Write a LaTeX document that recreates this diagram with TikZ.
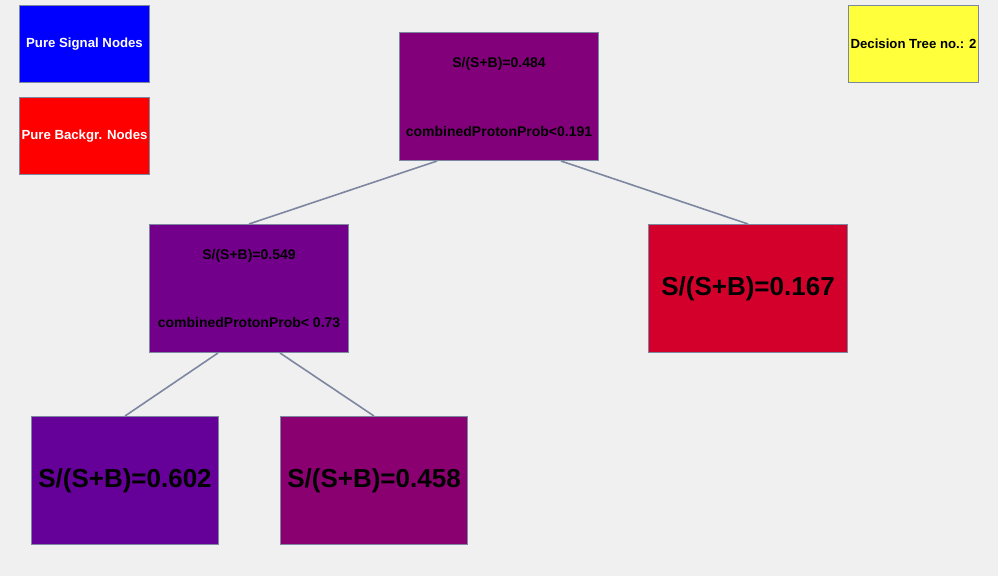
\documentclass[tikz,border=0pt]{standalone}
\usepackage{fontspec}
\setmainfont{Liberation Sans}
\usetikzlibrary{positioning}

\definecolor{canvas}{RGB}{240,240,240}
\definecolor{frame}{RGB}{125,135,160}
\definecolor{sigcol}{RGB}{0,0,255}
\definecolor{bkgcol}{RGB}{255,0,0}
\definecolor{infocol}{RGB}{255,255,60}
\definecolor{col484}{RGB}{130,0,122}
\definecolor{col549}{RGB}{114,0,138}
\definecolor{col167}{RGB}{212,0,44}
\definecolor{col602}{RGB}{101,0,152}
\definecolor{col458}{RGB}{138,0,112}

\begin{document}
\begin{tikzpicture}[x=1pt,y=-1pt]
    \tikzstyle{legend}=[draw=frame,line width=1pt,anchor=north west,inner sep=0pt,minimum width=130pt,minimum height=77pt,font=\fontsize{13.2}{16}\selectfont\bfseries]
    \tikzstyle{cut}=[draw=frame,line width=1pt,anchor=north west,inner sep=0pt,minimum width=199pt,minimum height=128pt]
    \tikzstyle{leaf}=[cut,font=\fontsize{26}{30}\selectfont\bfseries]
    \tikzstyle{small}=[font=\fontsize{14}{16}\selectfont\bfseries,inner sep=0pt]
    \tikzstyle{branch}=[draw=frame,line width=1.6pt]
    % background
    \fill[canvas] (0,0) rectangle (998,576);
    % legend
    \node[legend,fill=sigcol,text=white] (signal) at (19,5) {Pure Signal Nodes};
    \node[legend,fill=bkgcol,text=white] (backgr) at (19,97) {Pure Backgr. Nodes};
    \node[legend,fill=infocol] (treeno) at (848,5) {Decision Tree no.: 2};
    % tree
    \node[cut,fill=col484] (root) at (399,32) {};
    \node[small] (root purity) at ([yshift=-32pt]root.north) {S/(S+B)=0.484};
    \node[small] (root cut) at ([yshift=30pt]root.south) {combinedProtonProb<0.191};
    \node[cut,fill=col549] (left) at (149,224) {};
    \node[small] (left purity) at ([yshift=-32pt]left.north) {S/(S+B)=0.549};
    \node[small] (left cut) at ([yshift=31pt]left.south) {combinedProtonProb< 0.73};
    \node[leaf,fill=col167] (right) at (648,224) {S/(S+B)=0.167};
    \node[leaf,fill=col602,minimum width=187pt] (leftleft) at (31,416) {S/(S+B)=0.602};
    \node[leaf,fill=col458,minimum width=187pt] (leftright) at (280,416) {S/(S+B)=0.458};
    % branches
    \draw[branch] ([xshift=-62pt]root.south) -- (left.north);
    \draw[branch] ([xshift=62pt]root.south) -- (right.north);
    \draw[branch] ([xshift=-31pt]left.south) -- (leftleft.north);
    \draw[branch] ([xshift=31pt]left.south) -- (leftright.north);
\end{tikzpicture}
\end{document}
